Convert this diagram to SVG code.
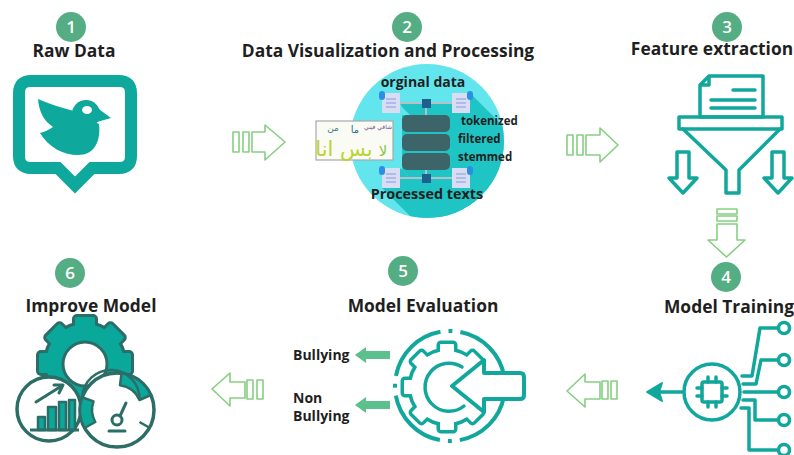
<svg xmlns="http://www.w3.org/2000/svg" width="794" height="455" viewBox="0 0 794 455">
  <style>
    .title { font-family: "Open Sans", "Liberation Sans", sans-serif; font-weight: 700; font-size: 17.4px; fill: #1f1f1f; text-anchor: middle; }
    .num { font-family: "Open Sans", "Liberation Sans", sans-serif; font-weight: 600; font-size: 17px; fill: #ffffff; text-anchor: middle; }
    .badge { fill: #55ad83; }
    .lbl { font-family: "Open Sans", "Liberation Sans", sans-serif; font-weight: 700; fill: #1f1f1f; }
    .teal { fill: none; stroke: #12a79c; stroke-width: 3.5; stroke-linejoin: round; stroke-linecap: round; }
    .flow { fill: #ffffff; stroke: #86cf82; stroke-width: 1.6; stroke-linejoin: round; }
    .doc { fill: #d9ddf3; }
    .docline { stroke: #9fb0e3; stroke-width: 1.5; }
    .tab { fill: #2b8fe6; }
    .wire { stroke: #b7c0c8; stroke-width: 2; }
    .stack { fill: #3d6468; }
    .ar { font-family: "DejaVu Sans", sans-serif; text-anchor: middle; }
  </style>
  <defs>
    <clipPath id="ballClip"><circle cx="427" cy="141" r="77"/></clipPath>
  </defs>

  <rect width="794" height="455" fill="#ffffff"/>

  <!-- 1: raw data -->
  <g id="raw-data">
    <circle class="badge" cx="71" cy="27" r="15"/>
    <text class="num" x="71" y="33">1</text>
    <text class="title" x="74" y="57">Raw Data</text>
    <path d="M31 81 H119 Q131 81 131 93 V156 Q131 168 119 168 H92 L75 185 L58 168 H31 Q19 168 19 156 V93 Q19 81 31 81 Z" fill="none" stroke="#0fa89c" stroke-width="12" stroke-linejoin="miter"/>
    <!-- bird -->
    <path d="M74 111 C62 108 49 104 38 99 C39 112 44 121 53 127 C49 130 44 132 40 133 C49 148 64 155 78 155 C94 155 101 142 99 124 Z" fill="#0fa89c"/>
    <circle cx="86" cy="114" r="14" fill="#0fa89c"/>
    <path d="M96 107 L111 118 L97 122 Z" fill="#0fa89c"/>
    <ellipse cx="87" cy="110" rx="5" ry="4" fill="#ffffff"/>
  </g>

  <!-- 2: data visualization and processing -->
  <g id="data-processing">
    <circle class="badge" cx="407" cy="27" r="15"/>
    <text class="num" x="407" y="33">2</text>
    <text class="title" x="388" y="57">Data Visualization and Processing</text>
    <circle cx="427" cy="141" r="77" fill="#62e5ec"/>
    <g clip-path="url(#ballClip)" fill="#1fc4c4">
      <polygon points="402,115 450,115 560,225 560,280 512,280 402,170"/>
      <polygon points="452,93 470,93 580,203 580,223 562,223 452,113"/>
      <polygon points="400,103 452,103 560,211 560,215 510,215 402,107"/>
      <polygon points="382,168 400,168 500,268 500,288 482,288 382,188"/>
      <polygon points="400,176 452,176 550,274 550,280 500,280 402,180"/>
    </g>
    <!-- wires -->
    <line class="wire" x1="400" y1="103" x2="452" y2="103"/>
    <line class="wire" x1="426" y1="103" x2="426" y2="115"/>
    <line class="wire" x1="400" y1="178" x2="452" y2="178"/>
    <line class="wire" x1="426" y1="170" x2="426" y2="178"/>
    <rect x="422" y="99" width="9" height="9" fill="#1d5f8d"/>
    <rect x="422" y="174" width="9" height="9" fill="#1d5f8d"/>
    <!-- database stack -->
    <rect class="stack" x="402" y="115" width="48" height="17" rx="5"/>
    <rect class="stack" x="402" y="134" width="48" height="17" rx="5"/>
    <rect class="stack" x="402" y="153" width="48" height="17" rx="5"/>
    <!-- documents -->
    <g>
      <rect class="doc" x="382" y="93" width="18" height="20"/>
      <rect class="tab" x="379" y="91" width="6" height="9" rx="3"/>
      <line class="docline" x1="386" y1="99" x2="396" y2="99"/><line class="docline" x1="386" y1="103" x2="396" y2="103"/><line class="docline" x1="386" y1="107" x2="396" y2="107"/>
      <rect class="doc" x="452" y="93" width="18" height="20"/>
      <rect class="tab" x="467" y="91" width="6" height="9" rx="3"/>
      <line class="docline" x1="456" y1="99" x2="466" y2="99"/><line class="docline" x1="456" y1="103" x2="466" y2="103"/><line class="docline" x1="456" y1="107" x2="466" y2="107"/>
      <rect class="doc" x="382" y="168" width="18" height="20"/>
      <rect class="tab" x="379" y="166" width="6" height="9" rx="3"/>
      <line class="docline" x1="386" y1="174" x2="396" y2="174"/><line class="docline" x1="386" y1="178" x2="396" y2="178"/><line class="docline" x1="386" y1="182" x2="396" y2="182"/>
      <rect class="doc" x="452" y="168" width="18" height="20"/>
      <rect class="tab" x="467" y="166" width="6" height="9" rx="3"/>
      <line class="docline" x1="456" y1="174" x2="466" y2="174"/><line class="docline" x1="456" y1="178" x2="466" y2="178"/><line class="docline" x1="456" y1="182" x2="466" y2="182"/>
    </g>
    <!-- word cloud -->
    <rect x="316" y="121" width="77" height="39" fill="#fbfbf6" stroke="#a9a9a9" stroke-width="1.2"/>
    <text class="ar" x="333" y="131" font-size="9" fill="#3b7c8a">من</text>
    <text class="ar" x="355" y="133" font-size="10" fill="#2d6f8f">ما</text>
    <text class="ar" x="378" y="129" font-size="6" fill="#6b4f8c">شافي فيني</text>
    <text class="ar" x="344" y="156" font-size="21" fill="#b9d532">بس انا</text>
    <text class="ar" x="383" y="156" font-size="15" fill="#8cc63f">لا</text>
    <!-- labels -->
    <text class="lbl" x="423" y="87" font-size="14" text-anchor="middle">orginal data</text>
    <text class="lbl" x="461" y="125" font-size="11.5">tokenized</text>
    <text class="lbl" x="458" y="143" font-size="11.5">filtered</text>
    <text class="lbl" x="458" y="161" font-size="11.5">stemmed</text>
    <text class="lbl" x="427" y="199" font-size="14.4" text-anchor="middle">Processed texts</text>
  </g>

  <!-- 3: feature extraction -->
  <g id="feature-extraction">
    <circle class="badge" cx="727" cy="27" r="15"/>
    <text class="num" x="727" y="33">3</text>
    <text class="title" x="712" y="55">Feature extraction</text>
    <path class="teal" d="M709 76 H763 V117 H700 V85 Z M700 85 H709 V76"/>
    <line class="teal" x1="733" y1="90" x2="755" y2="90"/>
    <line class="teal" x1="711" y1="100" x2="755" y2="100"/>
    <line class="teal" x1="711" y1="108" x2="755" y2="108"/>
    <rect class="teal" x="679" y="117" width="103" height="12"/>
    <path class="teal" d="M683 129 L726 170 V193 H739 V170 L780 129"/>
    <path class="teal" d="M677 152 H689 V178 H697 L683 193 L669 178 H677 Z"/>
    <path class="teal" d="M772 152 H784 V178 H792 L778 193 L764 178 H772 Z"/>
  </g>

  <!-- 4: model training -->
  <g id="model-training">
    <circle class="badge" cx="726" cy="277" r="15"/>
    <text class="num" x="726" y="283">4</text>
    <text class="title" x="729" y="313">Model Training</text>
    <circle class="teal" cx="712" cy="392" r="28" stroke-width="4"/>
    <rect class="teal" x="702" y="382" width="20" height="20" rx="2"/>
    <path class="teal" d="M708 377 V382 M716 377 V382 M708 402 V407 M716 402 V407 M697 388 H702 M697 396 H702 M722 388 H727 M722 396 H727"/>
    <line class="teal" x1="658" y1="392" x2="682" y2="392" stroke-width="4"/>
    <path d="M647 392 L662 383 L659 392 L662 401 Z" fill="#12a79c" stroke="#12a79c" stroke-width="2" stroke-linejoin="round"/>
    <g class="teal" stroke-width="4">
      <path d="M742 376 H752 L760 328 H777"/>
      <path d="M743 384 H756 L761 360 H777"/>
      <path d="M744 392 H777"/>
      <path d="M743 400 H755 V420 H777"/>
      <path d="M741 408 H749 V450 H777"/>
      <circle cx="784" cy="328" r="5.5"/>
      <circle cx="784" cy="360" r="5.5"/>
      <circle cx="784" cy="392" r="5.5"/>
      <circle cx="784" cy="420" r="5.5"/>
      <circle cx="784" cy="450" r="5.5"/>
    </g>
  </g>

  <!-- 5: model evaluation -->
  <g id="model-evaluation">
    <circle class="badge" cx="403" cy="271" r="15"/>
    <text class="num" x="403" y="277">5</text>
    <text class="title" x="423" y="312">Model Evaluation</text>
    <circle cx="450" cy="386" r="55" fill="none" stroke="#12a79c" stroke-width="4" stroke-dasharray="4 8 66.4 8" stroke-dashoffset="2"/>
    <!-- gear: outline layer then white body layer -->
    <g fill="#12a79c" stroke="#12a79c" stroke-width="7" stroke-linejoin="round">
      <circle cx="447" cy="387" r="36"/>
      <rect x="440" y="344" width="14" height="86" rx="1"/>
      <rect x="440" y="344" width="14" height="86" rx="1" transform="rotate(45 447 387)"/>
      <rect x="440" y="344" width="14" height="86" rx="1" transform="rotate(90 447 387)"/>
      <rect x="440" y="344" width="14" height="86" rx="1" transform="rotate(135 447 387)"/>
    </g>
    <g fill="#ffffff">
      <circle cx="447" cy="387" r="36"/>
      <rect x="440" y="344" width="14" height="86" rx="1"/>
      <rect x="440" y="344" width="14" height="86" rx="1" transform="rotate(45 447 387)"/>
      <rect x="440" y="344" width="14" height="86" rx="1" transform="rotate(90 447 387)"/>
      <rect x="440" y="344" width="14" height="86" rx="1" transform="rotate(135 447 387)"/>
    </g>
    <path class="teal" d="M462 367 A24 24 0 1 0 464 406" stroke-width="4"/>
    <path d="M452 386 L484 360 V373 H520 Q524 373 524 377 V395 Q524 399 520 399 H484 V412 Z" fill="#ffffff" stroke="#12a79c" stroke-width="4" stroke-linejoin="round"/>
    <path d="M355 355 L366 347 V351 H390 V359 H366 V363 Z" fill="#5cc08d"/>
    <path d="M355 405 L366 397 V401 H390 V409 H366 V413 Z" fill="#5cc08d"/>
    <text class="lbl" x="293" y="360" font-size="14">Bullying</text>
    <text class="lbl" x="293" y="403" font-size="14">Non</text>
    <text class="lbl" x="293" y="421" font-size="14">Bullying</text>
  </g>

  <!-- 6: improve model -->
  <g id="improve-model">
    <circle class="badge" cx="70" cy="273" r="15"/>
    <text class="num" x="70" y="279">6</text>
    <text class="title" x="91" y="312">Improve Model</text>
    <g fill="#2d6d67" stroke="#2d6d67" stroke-width="6" stroke-linejoin="round">
      <circle cx="85" cy="363" r="39"/>
      <rect x="75" y="317" width="20" height="92" rx="2"/>
      <rect x="75" y="317" width="20" height="92" rx="2" transform="rotate(45 85 363)"/>
      <rect x="75" y="317" width="20" height="92" rx="2" transform="rotate(90 85 363)"/>
      <rect x="75" y="317" width="20" height="92" rx="2" transform="rotate(135 85 363)"/>
    </g>
    <g fill="#0aa89b">
      <circle cx="85" cy="363" r="39"/>
      <rect x="75" y="317" width="20" height="92" rx="2"/>
      <rect x="75" y="317" width="20" height="92" rx="2" transform="rotate(45 85 363)"/>
      <rect x="75" y="317" width="20" height="92" rx="2" transform="rotate(90 85 363)"/>
      <rect x="75" y="317" width="20" height="92" rx="2" transform="rotate(135 85 363)"/>
    </g>
    <circle cx="85" cy="364" r="22" fill="#ffffff" stroke="#2d6d67" stroke-width="3"/>
    <!-- chart dial -->
    <circle cx="49" cy="409" r="32" fill="#ffffff" stroke="#2d6d67" stroke-width="3.5"/>
    <g fill="#0aa89b" stroke="#2d6d67" stroke-width="2.5" stroke-linejoin="round">
      <rect x="38" y="417" width="7" height="13"/>
      <rect x="48" y="407" width="8" height="23"/>
      <rect x="59" y="402" width="7" height="28"/>
      <rect x="69" y="400" width="6" height="30"/>
    </g>
    <line x1="30" y1="430" x2="79" y2="430" stroke="#2d6d67" stroke-width="3"/>
    <line x1="36" y1="402" x2="60" y2="387" stroke="#2d6d67" stroke-width="3" stroke-linecap="round"/>
    <path d="M54 385 L63 385 L59 393" fill="none" stroke="#2d6d67" stroke-width="3" stroke-linecap="round" stroke-linejoin="round"/>
    <!-- gauge dial -->
    <circle cx="117" cy="410" r="37" fill="#ffffff" stroke="#2d6d67" stroke-width="3.5"/>
    <path d="M82.2 397.3 A37 37 0 0 0 84.6 428.0 L95.3 422.0 A25 25 0 0 1 93.5 401.4 Z" fill="#0aa89b" stroke="#2d6d67" stroke-width="2.5" stroke-linejoin="round"/>
    <path d="M121.5 373.3 A37 37 0 0 1 150.8 395.0 L139.5 400.0 A25 25 0 0 0 120.0 385.2 Z" fill="#0aa89b" stroke="#2d6d67" stroke-width="2.5" stroke-linejoin="round"/>
    <path d="M82.2 397.3 A25 25 0 0 1 139.5 400" fill="none" stroke="#2d6d67" stroke-width="2.5"/>
    <line x1="139.5" y1="422" x2="150" y2="428" stroke="#2d6d67" stroke-width="2.5"/>
    <circle cx="117" cy="420" r="5" fill="#ffffff" stroke="#2d6d67" stroke-width="3"/>
    <line x1="120" y1="416" x2="126" y2="403" stroke="#2d6d67" stroke-width="3" stroke-linecap="round"/>
    <line x1="109" y1="431" x2="125" y2="431" stroke="#2d6d67" stroke-width="3" stroke-linecap="round"/>
  </g>

  <!-- flow arrows between stages -->
  <g id="connectors">
    <g class="flow">
      <rect x="233" y="132" width="6" height="20"/>
      <rect x="243" y="132" width="6" height="20"/>
      <path d="M252 132 H265 V125 L285 142 L265 160 V152 H252 Z"/>
      <rect x="567" y="135" width="6" height="20"/>
      <rect x="577" y="135" width="6" height="20"/>
      <path d="M586 135 H600 V128 L618 145 L600 162 V155 H586 Z"/>
      <rect x="717" y="209" width="20" height="5"/>
      <rect x="717" y="216" width="20" height="5"/>
      <path d="M717 224 V240 H708 L726.5 257 L745 240 H737 V224 Z"/>
      <path d="M600 382 H585 V374 L567 391 L585 407 V399 H600 Z"/>
      <rect x="602" y="381" width="6" height="18"/>
      <rect x="611" y="381" width="6" height="18"/>
      <path d="M245 382 H230 V373 L212 389 L230 406 V398 H245 Z"/>
      <rect x="247" y="380" width="6" height="19"/>
      <rect x="257" y="380" width="6" height="19"/>
    </g>
  </g>
</svg>
